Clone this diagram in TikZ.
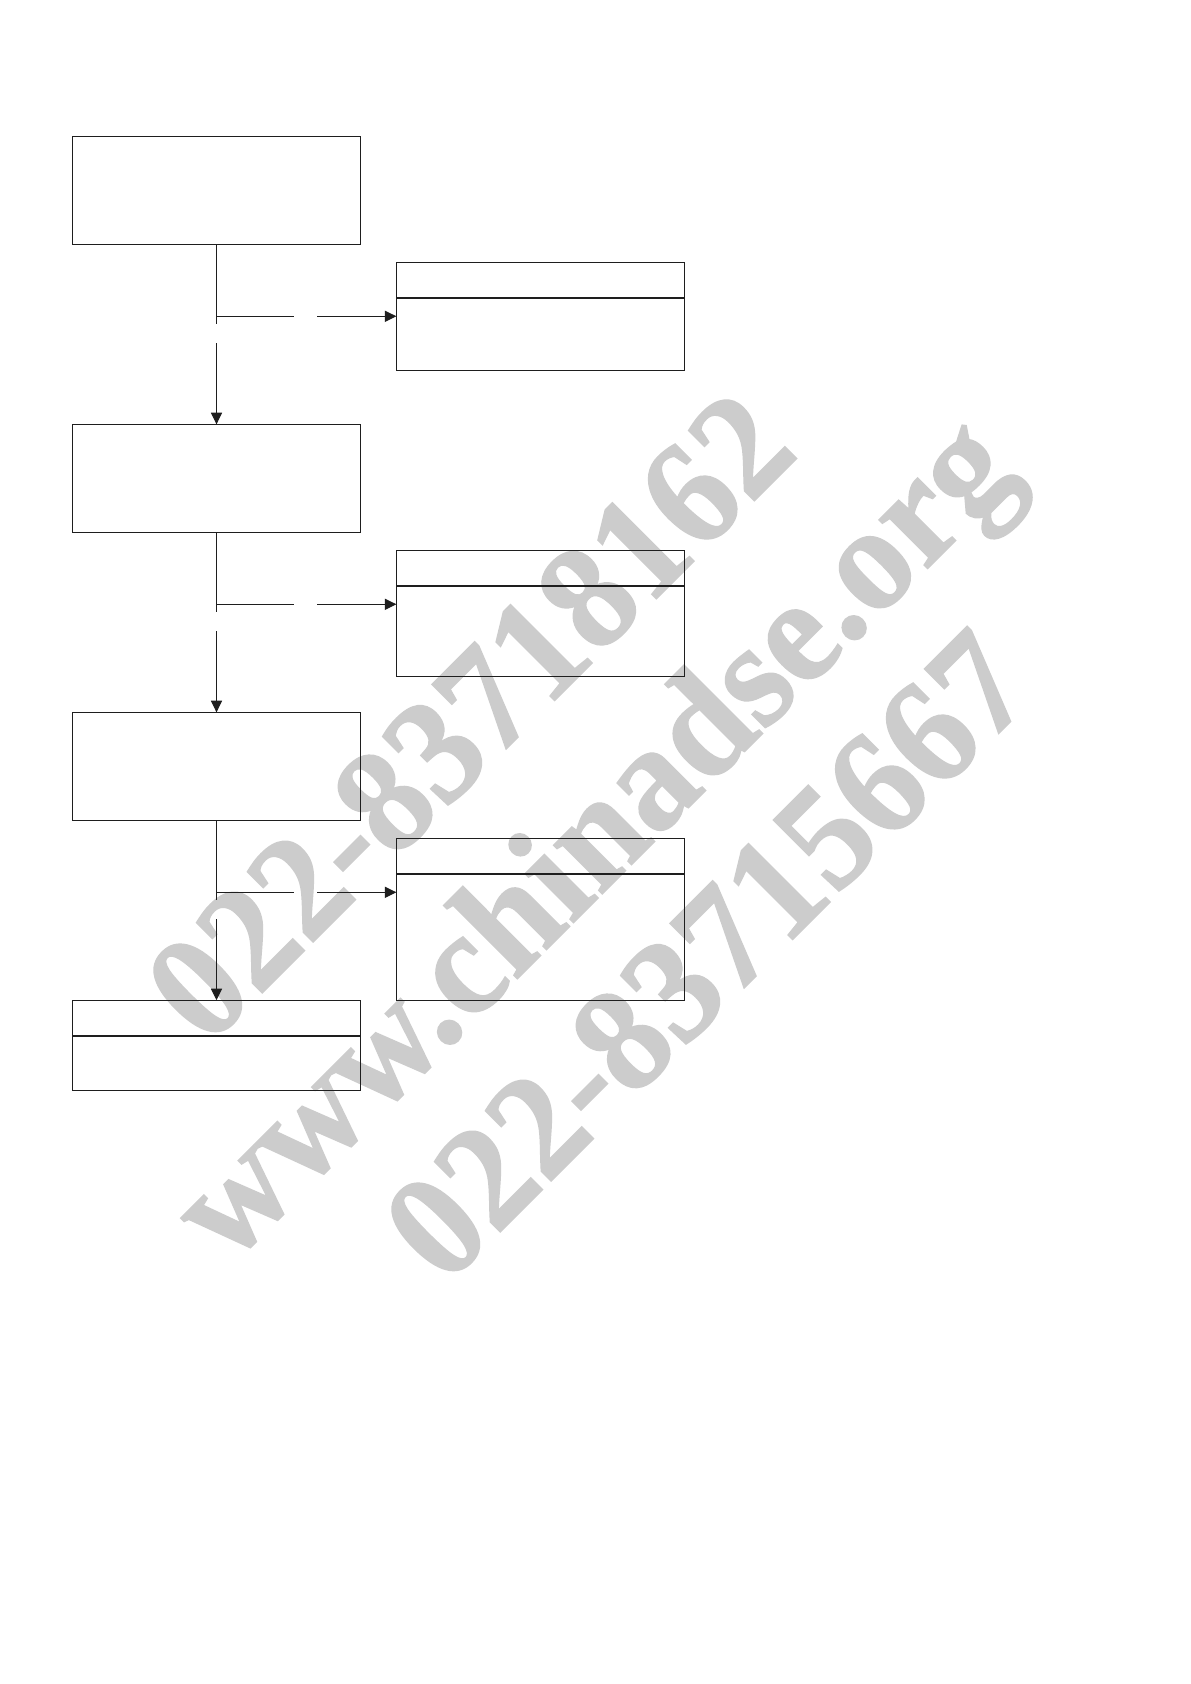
\documentclass[tikz,border=0pt]{standalone}
\usepackage{fontspec}
\newfontfamily\wmfont{Liberation Serif Bold}[FakeBold=1]
\usetikzlibrary{arrows.meta}
\definecolor{ink}{RGB}{30,30,30}
\definecolor{wmgray}{RGB}{204,204,204}
\tikzset{
  leftbox/.style={draw=ink, line width=0.6pt, rectangle, inner sep=0pt, outer sep=0pt, minimum width=144.2pt},
  rightbox/.style={draw=ink, line width=0.6pt, rectangle, inner sep=0pt, outer sep=0pt, minimum width=144pt},
  divider/.style={draw=ink, line width=1.1pt},
  conn/.style={draw=ink, line width=0.5pt},
  arr/.style={conn, -{Triangle[length=5.8pt,width=5.6pt]}},
  wmark/.style={text=wmgray, anchor=base, rotate=45, inner sep=0pt, yscale=1.04, font=\wmfont\fontsize{72}{85}\selectfont}
}
\begin{document}
\begin{tikzpicture}[x=0.5pt,y=-0.5pt]
\useasboundingbox (0,0) rectangle (1190,1684);
\fill[white] (0,0) rectangle (1190,1684);
% watermark
\node[wmark] (wm1) at (504,751) {022-83718162};
\node[wmark] (wm2) at (625,871) {www.chinadse.org};
\node[wmark] (wm3) at (742,990) {022-83715667};
% left column boxes
\node[leftbox, minimum height=54pt] (b1) at (216.5,190.15) {};
\node[leftbox, minimum height=54pt] (b2) at (216.5,478.3) {};
\node[leftbox, minimum height=54pt] (b3) at (216.5,766.3) {};
\node[leftbox, minimum height=45pt] (b4) at (216.5,1045.15) {};
% right column boxes
\node[rightbox, minimum height=54pt] (r1) at (540.4,316.3) {};
\node[rightbox, minimum height=63pt] (r2) at (540.4,613.3) {};
\node[rightbox, minimum height=81pt] (r3) at (540.4,919.3) {};
% dividers
\foreach \n in {r1,r2,r3,b4}{
  \draw[divider] ([yshift=-17.85pt]\n.north west) -- ([yshift=-17.85pt]\n.north east);
}
% connector coordinates
\coordinate (j1) at (216.5,316.3);
\coordinate (g1a) at (216.5,324.3);
\coordinate (g1b) at (216.5,343.3);
\coordinate (h1a) at (293.8,316.3);
\coordinate (h1b) at (317,316.3);
\coordinate (j2) at (216.5,604.3);
\coordinate (g2a) at (216.5,612.3);
\coordinate (g2b) at (216.5,631.3);
\coordinate (h2a) at (293.8,604.3);
\coordinate (h2b) at (317,604.3);
\coordinate (j3) at (216.5,892.3);
\coordinate (g3a) at (216.5,900.3);
\coordinate (g3b) at (216.5,919.3);
\coordinate (h3a) at (293.8,892.3);
\coordinate (h3b) at (317,892.3);
% level 1
\draw[conn] (b1.south) -- (g1a);
\draw[arr] (g1b) -- (b2.north);
\draw[conn] (j1) -- (h1a);
\draw[arr] (h1b) -- (r1.west |- j1);
% level 2
\draw[conn] (b2.south) -- (g2a);
\draw[arr] (g2b) -- (b3.north);
\draw[conn] (j2) -- (h2a);
\draw[arr] (h2b) -- (r2.west |- j2);
% level 3
\draw[conn] (b3.south) -- (g3a);
\draw[arr] (g3b) -- (b4.north);
\draw[conn] (j3) -- (h3a);
\draw[arr] (h3b) -- (r3.west |- j3);
\end{tikzpicture}
\end{document}
